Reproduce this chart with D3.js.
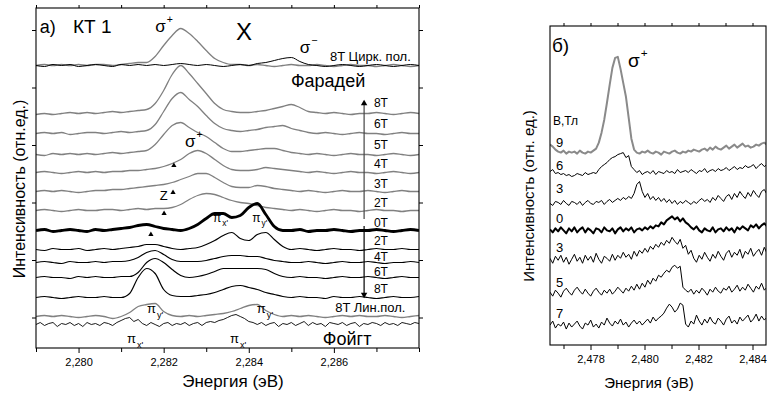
<!DOCTYPE html>
<html>
<head>
<meta charset="utf-8">
<script src="https://cdnjs.cloudflare.com/ajax/libs/d3/7.8.5/d3.min.js"></script>
<style>
  body { margin: 0; background: #fff; }
  svg { display: block; font-family: "Liberation Sans", Arial, sans-serif; }
  text { fill: #000; }
</style>
</head>
<body>
<svg id="chart" width="767" height="393"></svg>
<script>
// ---------- panel a (КТ 1) ----------
const energyA = [2.2790,2.2792,2.2794,2.2796,2.2798,2.2800,2.2802,2.2804,2.2806,2.2808,
  2.2810,2.2812,2.2814,2.2816,2.2818,2.2820,2.2822,2.2824,2.2826,2.2828,
  2.2830,2.2832,2.2834,2.2836,2.2838,2.2840,2.2842,2.2844,2.2846,2.2848,
  2.2850,2.2852,2.2854,2.2856,2.2858,2.2860,2.2862,2.2864,2.2866,2.2868,
  2.2870,2.2872,2.2874,2.2876,2.2878,2.2880];

const energyVoigt = [2.2790,2.2791,2.2792,2.2793,2.2794,2.2795,2.2796,2.2797,2.2798,2.2799,
  2.2800,2.2801,2.2802,2.2803,2.2804,2.2805,2.2806,2.2807,2.2808,2.2809,
  2.2810,2.2811,2.2812,2.2813,2.2814,2.2815,2.2816,2.2817,2.2818,2.2819,
  2.2820,2.2821,2.2822,2.2823,2.2824,2.2825,2.2826,2.2827,2.2828,2.2829,
  2.2830,2.2831,2.2832,2.2833,2.2834,2.2835,2.2836,2.2837,2.2838,2.2839,
  2.2840,2.2841,2.2842,2.2843,2.2844,2.2845,2.2846,2.2847,2.2848,2.2849,
  2.2850,2.2851,2.2852,2.2853,2.2854,2.2855,2.2856,2.2857,2.2858,2.2859,
  2.2860,2.2861,2.2862,2.2863,2.2864,2.2865,2.2866,2.2867,2.2868,2.2869,
  2.2870,2.2871,2.2872,2.2873,2.2874,2.2875,2.2876,2.2877,2.2878,2.2879,
  2.2880];

// 8T circular polarisation
const circPlus = [0.0,0.1,0.0,0.1,0.0,0.1,0.0,0.1,0.1,0.0,0.1,0.2,0.3,
  0.3,0.9,2.0,3.0,3.7,3.2,2.4,1.5,0.7,0.3,0.1,
  0.1,0.0,0.1,0.0,-0.1,0.0,0.1,0.0,0.0,0.1,0.0,-0.1,0.0,0.1,0.0,0.0,-0.1,0.0,0.1,0.0,-0.1,0.0];
const circMinus = [0.0,-0.1,0.1,0.0,0.1,-0.1,0.0,0.1,0.0,-0.1,0.1,0.0,0.1,0.0,0.1,0.0,
  0.1,0.2,0.1,0.0,0.1,0.0,-0.1,0.0,0.1,0.0,
  0.2,0.3,0.5,0.7,0.8,0.4,0.1,0.0,
  -0.1,0.0,0.1,0.0,-0.1,0.0,0.1,0.0,-0.1,0.0,0.1,0.0];

// Faraday geometry
const far8 = [-0.1,0.0,-0.1,0.0,0.1,0.0,0.1,0.0,0.1,0.2,0.1,0.2,0.3,
  0.4,1.0,2.3,3.9,4.8,4.0,3.0,2.0,1.0,0.4,0.2,0.1,0.1,
  0.2,0.3,0.5,0.7,0.9,0.6,0.2,0.1,
  0.0,0.1,0.0,-0.1,0.0,0.0,0.1,0.0,-0.1,0.0,0.1,0.0];
const far6 = [0.0,0.1,0.0,0.1,-0.1,0.0,0.1,0.1,0.0,0.1,0.2,0.1,0.2,
  0.3,0.9,2.2,3.5,4.1,3.4,2.7,1.8,1.0,0.5,0.3,0.2,0.3,
  0.4,0.6,0.7,0.8,0.5,0.3,0.1,0.0,
  0.1,0.0,-0.1,0.0,0.1,0.0,0.0,-0.1,0.0,0.1,0.0,0.0];
const far5 = [0.0,-0.1,0.1,0.0,0.1,0.0,0.1,0.0,0.1,0.2,0.1,0.2,0.3,
  0.4,1.0,2.0,2.9,3.2,2.7,2.2,1.8,1.2,0.6,0.3,0.3,0.4,
  0.5,0.6,0.6,0.4,0.2,0.1,0.0,0.1,
  0.0,-0.1,0.0,0.1,0.0,0.0,-0.1,0.0,0.1,0.0,-0.1,0.0];
const far4 = [0.0,0.1,0.0,-0.1,0.0,0.1,0.0,0.1,0.0,0.1,0.1,0.2,
  0.2,0.3,0.4,0.6,0.9,1.3,1.9,2.2,1.9,1.3,0.7,0.3,0.2,0.2,
  0.3,0.5,0.4,0.3,0.2,0.1,
  0.0,0.1,0.0,-0.1,0.0,0.1,0.0,0.0,-0.1,0.0,0.1,0.0,-0.1,0.0];
const far3 = [0.0,0.1,0.0,0.1,0.0,-0.1,0.0,0.1,0.1,0.2,0.2,
  0.3,0.4,0.5,0.6,0.7,0.9,1.2,1.5,1.8,1.8,1.4,0.9,0.5,0.4,0.4,
  0.6,0.5,0.3,0.2,0.1,
  0.0,0.1,0.0,-0.1,0.0,0.1,0.0,0.0,0.1,0.0,-0.1,0.0,0.1,0.0,0.0];
const far2 = [0.0,0.1,0.0,-0.1,0.0,0.1,0.0,0.0,0.1,0.1,0.0,0.1,0.2,0.1,0.2,
  0.2,0.3,0.6,1.1,1.5,1.7,1.6,1.3,1.0,0.8,0.7,0.5,0.3,0.2,0.1,
  0.0,0.1,0.0,-0.1,0.0,0.1,0.0,0.0,-0.1,0.0,0.1,0.0,0.0,-0.1,0.0,0.0];

// zero field
const zeroField = [0.0,0.1,-0.1,0.0,0.1,0.0,-0.1,0.1,0.0,0.1,0.2,
  0.3,0.5,0.6,0.4,0.2,0.1,0.0,0.2,0.6,1.2,1.7,1.7,1.3,1.5,2.3,2.7,1.6,0.4,0.0,
  0.0,0.1,-0.1,0.0,0.0,0.1,0.0,-0.1,0.0,0.0,0.1,0.0,-0.1,0.0,0.1,0.0];

// Voigt geometry
const voi2 = [0.0,-0.1,0.1,0.0,0.0,0.1,-0.1,0.0,0.1,0.0,0.1,0.2,
  0.3,0.5,0.5,0.3,0.1,0.0,0.1,0.2,0.5,0.9,1.4,1.7,1.1,0.9,1.5,1.7,1.0,0.3,
  0.0,0.1,0.0,-0.1,0.0,0.1,0.0,0.0,-0.1,0.0,0.1,0.0,0.0,0.1,0.0,0.0];
const voi4 = [0.0,0.1,0.0,-0.1,0.1,0.0,0.0,0.1,0.0,0.1,0.1,
  0.2,0.5,1.0,1.2,0.8,0.3,0.1,0.1,0.1,0.2,0.4,0.6,0.7,0.7,0.6,0.6,0.4,0.2,0.1,
  0.0,0.0,0.1,0.0,-0.1,0.0,0.1,0.0,0.0,0.1,0.0,-0.1,0.0,0.0,0.1,0.0];
const voi6 = [0.0,0.1,0.0,0.0,-0.1,0.1,0.0,0.1,0.0,0.0,0.1,
  0.1,0.5,1.5,1.9,1.5,0.8,0.2,0.0,0.1,0.3,0.6,0.9,0.9,0.9,0.9,0.9,0.8,0.4,0.1,
  0.0,0.1,0.0,0.0,-0.1,0.0,0.1,0.0,0.0,0.1,0.0,-0.1,0.0,0.1,0.0,0.0];
const voi8 = [0.0,0.1,0.0,-0.1,0.0,0.1,0.0,0.0,0.1,0.0,0.0,
  0.4,2.0,2.9,2.4,0.8,0.2,0.1,0.1,0.2,0.3,0.5,0.8,1.1,1.2,1.0,0.8,0.5,0.3,0.1,
  0.0,0.1,0.0,0.0,-0.1,0.1,0.0,0.0,0.1,0.0,-0.1,0.0,0.1,0.0,0.0,0.1];
const linPol8 = [0.0,0.1,0.0,0.1,0.0,-0.1,0.0,0.1,0.0,
  -0.2,0.0,0.4,1.0,1.2,1.3,0.5,0.1,0.0,0.1,0.0,0.1,0.2,0.3,0.5,0.8,1.1,1.2,0.6,0.2,0.0,
  0.1,0.0,0.1,0.0,-0.1,0.0,0.1,0.0,0.1,0.0,0.0,0.1,0.0,-0.1,0.0,0.1];
const voigtNoisy = [0.0,0.2,-0.1,0.1,0.2,-0.2,0.1,0.0,0.2,-0.1,0.1,-0.2,0.2,0.0,0.1,-0.1,0.2,0.1,-0.1,0.2,
  0.4,0.6,0.7,0.3,0.5,0.1,
  -0.1,0.2,0.0,-0.2,0.1,0.2,-0.1,0.1,0.0,0.2,-0.1,0.1,0.2,-0.1,0.2,
  0.3,0.2,0.4,0.5,0.7,0.9,1.0,0.8,0.6,0.3,0.2,0.0,
  0.2,-0.1,0.1,0.2,-0.2,0.1,0.0,0.2,-0.1,0.1,0.3,-0.1,0.2,0.0,0.1,-0.2,0.2,0.1,0.0,0.2,
  -0.1,0.1,0.2,-0.2,0.1,0.0,0.2,0.1,-0.1,0.2,0.0,0.1,-0.1,0.2,0.1,0.0,0.2,0.1];

const seriesA = [circPlus, circMinus, far8, far6, far5, far4, far3, far2, zeroField,
  voi2, voi4, voi6, voi8, linPol8, voigtNoisy];
const offsetsA = [25.2, 25.2, 20.4, 18.4, 16.3, 14.5, 12.6, 10.7, 8.7, 6.8, 5.5, 4.0, 2.0, 0.1, -0.7];
const fieldLabelsA = ["8T", "6T", "5T", "4T", "3T", "2T", "0T", "2T", "4T", "6T", "8T"];
const fieldLabelLevelsA = [21.05, 18.95, 16.85, 14.95, 12.95, 11.05, 9.05, 7.25, 5.65, 4.15, 2.45];
const xMajorA = [2.280, 2.282, 2.284, 2.286];
const xMinorA = [2.279, 2.281, 2.283, 2.285, 2.287, 2.288];
const yTicksA = [0, 5.75, 11.5, 17.25, 23, 28.75];

// ---------- panel b ----------
const energyB = [2.4765,2.4766,2.4767,2.4768,2.4769,
  2.4770,2.4771,2.4772,2.4773,2.4774,2.4775,2.4776,2.4777,2.4778,2.4779,
  2.4780,2.4781,2.4782,2.4783,2.4784,2.4785,2.4786,2.4787,2.4788,2.4789,
  2.4790,2.4791,2.4792,2.4793,2.4794,2.4795,2.4796,2.4797,2.4798,2.4799,
  2.4800,2.4801,2.4802,2.4803,2.4804,2.4805,2.4806,2.4807,2.4808,2.4809,
  2.4810,2.4811,2.4812,2.4813,2.4814,2.4815,2.4816,2.4817,2.4818,2.4819,
  2.4820,2.4821,2.4822,2.4823,2.4824,2.4825,2.4826,2.4827,2.4828,2.4829,
  2.4830,2.4831,2.4832,2.4833,2.4834,2.4835,2.4836,2.4837,2.4838,2.4839,
  2.4840,2.4841,2.4842,2.4843,2.4844,2.4845];

const fieldB9 = [0.8,0.6,0.3,0.1,
  0.0,0.2,-0.1,0.1,0.0,0.1,-0.1,0.2,0.0,-0.1,0.1,0.0,0.2,
  0.4,1.0,2.0,3.3,5.0,6.8,8.5,9.5,9.6,8.4,7.0,5.6,3.5,1.4,0.3,
  0.0,-0.1,0.1,0.0,0.2,0.0,-0.1,0.1,0.0,-0.2,0.1,0.0,-0.1,0.1,0.2,0.0,-0.1,0.1,0.0,0.2,
  0.1,0.3,0.2,0.1,0.3,0.4,0.2,0.5,0.3,0.6,0.4,0.3,0.5,0.7,0.4,0.6,0.8,0.5,0.7,0.9,
  0.6,0.7,0.5,0.6,0.8,0.7,0.9,1.0,0.8];
const fieldB6 = [0.2,0.4,0.0,0.1,-0.1,0.0,-0.2,-0.1,-0.3,-0.2,0.0,-0.1,-0.2,0.1,-0.1,0.0,
  0.1,0.0,0.4,0.7,0.9,1.1,1.4,1.6,1.7,1.9,2.0,2.1,1.6,1.8,0.7,0.4,
  0.1,0.3,-0.1,0.1,0.2,0.0,0.3,-0.1,0.2,0.1,0.0,0.3,0.1,0.2,0.0,0.4,0.1,0.2,0.3,0.1,
  0.4,0.2,0.0,0.3,0.2,0.5,0.1,0.3,0.4,0.2,0.5,0.3,0.4,0.6,0.3,0.5,0.7,0.4,0.6,0.5,
  0.8,0.6,0.7,0.9,0.5,0.8,1.0,0.7,0.9];
const fieldB3 = [0.0,-0.2,0.2,0.1,-0.1,0.3,0.0,-0.2,0.2,0.1,-0.1,0.2,-0.2,0.1,0.3,0.0,
  -0.1,0.2,0.1,0.3,-0.1,0.2,0.4,0.1,0.3,0.5,
  0.3,0.6,0.4,0.7,0.5,1.0,1.9,2.2,1.2,0.6,1.0,0.4,0.7,0.3,0.6,
  0.2,0.5,0.1,0.4,0.0,0.3,-0.1,0.2,0.0,0.3,0.1,-0.1,0.2,0.0,0.3,0.5,0.2,0.4,0.1,0.6,
  0.3,0.8,0.5,0.2,0.7,0.9,0.4,1.0,0.6,1.2,0.8,0.5,1.1,0.7,1.3,0.9,0.6,1.2,1.4,0.9];
const fieldB0 = [0.1,-0.2,0.2,-0.1,0.3,0.0,-0.3,0.2,-0.1,0.3,-0.2,0.1,0.3,-0.2,0.2,0.0,-0.3,0.2,0.1,-0.2,
  0.3,0.0,-0.1,0.2,-0.3,0.1,0.3,-0.1,0.2,0.0,0.3,-0.2,0.1,0.2,0.0,0.3,0.1,0.4,0.2,0.5,
  0.4,0.8,0.6,1.0,1.2,1.4,1.1,1.3,0.9,1.2,0.8,0.6,0.3,0.1,0.4,0.0,
  -0.2,0.2,0.0,-0.1,0.3,-0.2,0.1,0.2,-0.1,0.3,0.0,0.2,-0.2,0.3,0.1,0.4,0.2,0.0,0.5,0.3,
  0.6,0.2,0.5,0.7,0.4];
const fieldB3v = [0.2,-0.3,0.4,0.0,0.5,-0.2,0.3,-0.4,0.1,0.6,-0.1,0.3,-0.3,0.5,0.0,0.4,-0.2,0.7,0.1,-0.3,
  0.4,0.2,-0.1,0.6,0.0,0.5,0.2,0.8,0.3,0.6,0.1,0.9,0.4,1.0,0.7,
  1.2,0.8,1.4,1.1,1.6,1.3,1.8,1.5,2.0,1.7,2.3,1.9,1.6,2.1,1.2,1.5,0.6,1.0,0.2,-0.2,0.5,
  0.1,0.8,0.3,-0.1,0.6,0.2,0.9,0.4,0.0,0.7,1.0,0.3,0.8,0.5,1.1,0.2,0.9,0.6,1.2,0.4,
  0.8,1.1,0.5,1.3,0.7];
const fieldB5 = [0.1,-0.3,0.3,0.0,-0.4,0.2,0.5,0.1,-0.2,0.3,0.6,0.2,-0.1,0.4,0.0,-0.3,0.2,0.5,0.1,-0.2,
  0.3,0.0,0.4,-0.1,0.2,0.6,0.3,0.0,0.5,0.2,0.7,0.3,0.9,0.4,1.0,0.6,
  1.3,0.9,1.5,1.2,1.8,1.6,2.0,2.3,2.1,2.6,2.8,2.5,2.7,0.6,0.3,
  0.1,0.4,-0.1,0.3,0.0,0.5,0.2,-0.2,0.4,0.1,0.6,0.2,0.0,0.5,0.3,0.7,0.1,0.4,0.8,0.2,
  0.6,0.3,0.9,0.5,0.1,0.7,0.4,1.0,0.3,0.6];
const fieldB7 = [0.2,0.6,-0.1,0.3,0.1,0.5,-0.2,0.4,0.0,0.3,0.6,0.1,-0.2,0.4,0.2,0.7,0.0,0.3,-0.1,0.5,
  0.2,0.9,0.4,0.1,0.6,0.3,0.8,0.2,0.5,0.0,0.4,0.7,0.3,0.6,0.2,0.5,
  0.8,0.4,1.0,0.6,0.9,1.1,1.4,1.9,2.3,2.0,1.5,1.8,2.4,2.2,0.3,0.0,0.6,
  0.3,1.2,0.6,0.2,0.8,0.4,1.0,0.5,0.3,0.9,0.6,0.2,0.8,1.1,0.4,0.7,0.3,1.0,0.6,0.9,
  1.2,0.5,0.8,1.3,0.6,1.1,0.7,1.0];

const seriesB = [fieldB9, fieldB6, fieldB3, fieldB0, fieldB3v, fieldB5, fieldB7];
const offsetsB = [19.3, 17.2, 14.2, 11.5, 8.5, 5.2, 1.8];
const fieldLabelsB = ["9", "6", "3", "0", "3", "5", "7"];
const fieldLabelLevelsB = [19.86, 17.55, 15.25, 12.24, 9.33, 5.82, 2.71];
const xMajorB = [2.478, 2.480, 2.482, 2.484];
const xMinorB = [2.477, 2.479, 2.481, 2.483];

// ---------- drawing ----------
const svg = d3.select("#chart");
const fmt = d3.formatLocale({decimal: ",", thousands: " ", grouping: [3], currency: ["", ""]}).format(".3f");

function frameAndAxes(x, y, major, minor, yTicks, xLabel, yLabel, xLabelAt, yLabelAt) {
    const [x0, x1] = x.range(), [y0, y1] = y.range();
    const g = svg.append("g");
    g.append("g").attr("transform", `translate(0,${y0})`)
        .call(d3.axisBottom(x).tickValues(major).tickSize(5).tickPadding(5).tickFormat(fmt));
    g.append("g").attr("transform", `translate(0,${y0})`)
        .call(d3.axisBottom(x).tickValues(minor).tickSize(4).tickFormat(""));
    g.append("g").attr("transform", `translate(0,${y1})`)
        .call(d3.axisTop(x).tickValues(major.concat(minor)).tickSize(3).tickFormat(""));
    if (yTicks) {
        g.append("g").attr("transform", `translate(${x0},0)`)
            .call(d3.axisLeft(y).tickValues(yTicks).tickSize(4).tickFormat(""));
        g.append("g").attr("transform", `translate(${x1},0)`)
            .call(d3.axisRight(y).tickValues(yTicks).tickSize(4).tickFormat(""));
    }
    g.selectAll(".domain").remove();
    g.selectAll(".tick line").attr("stroke", "#000");
    g.selectAll(".tick text").attr("font-size", 11).attr("fill", "#000")
        .attr("font-family", '"Liberation Sans", Arial, sans-serif');
    g.append("rect").attr("x", x0).attr("y", y1).attr("width", x1 - x0).attr("height", y0 - y1)
        .attr("fill", "none").attr("stroke", "#000").attr("stroke-width", 1.1);
    g.append("text").attr("x", xLabelAt[0]).attr("y", xLabelAt[1]).attr("text-anchor", "middle")
        .attr("font-size", xLabelAt[2]).text(xLabel);
    g.append("text").attr("transform", `translate(${yLabelAt[0]},${yLabelAt[1]}) rotate(-90)`)
        .attr("text-anchor", "middle").attr("font-size", yLabelAt[2]).text(yLabel);
}

function spectrum(g, x, y, energies, values, offset, color, width, curve) {
    const n = Math.min(energies.length, values.length);
    const pts = values.slice(0, n).map((v, i) => [energies[i], offset + v]);
    g.append("path").datum(pts)
        .attr("fill", "none").attr("stroke", color).attr("stroke-width", width)
        .attr("stroke-linejoin", "round")
        .attr("d", d3.line().x(d => x(d[0])).y(d => y(d[1])).curve(curve));
}

function label(x, y, e, v, txt, size, anchor) {
    return svg.append("text").attr("x", x(e)).attr("y", y(v))
        .attr("font-size", size).attr("text-anchor", anchor || "start").text(txt);
}

function greek(x, y, e, v, letter, extra, size, up) {
    const t = svg.append("text").attr("x", x(e)).attr("y", y(v)).attr("font-size", size);
    t.append("tspan").text(letter);
    t.append("tspan").attr("font-size", size * (up ? 0.62 : 0.7)).attr("dx", 1)
        .attr("dy", up ? -size * 0.55 : size * 0.35).text(extra);
}

// panel a
const xA = d3.scaleLinear().domain([2.279, 2.288]).range([36, 419]);
const yA = d3.scaleLinear().domain([-3.05, 30.95]).range([348, 8]);

svg.append("clipPath").attr("id", "clipA").append("rect")
    .attr("x", 36).attr("y", 8).attr("width", 383).attr("height", 340);
const gA = svg.append("g").attr("clip-path", "url(#clipA)");

const styleA = [
    ["#808080", 1.3, d3.curveMonotoneX], ["#000", 1, d3.curveMonotoneX],
    ["#808080", 1.3, d3.curveMonotoneX], ["#808080", 1.3, d3.curveMonotoneX],
    ["#808080", 1.3, d3.curveMonotoneX], ["#808080", 1.3, d3.curveMonotoneX],
    ["#808080", 1.3, d3.curveMonotoneX], ["#808080", 1.3, d3.curveMonotoneX],
    ["#000", 2.8, d3.curveMonotoneX],
    ["#000", 1.2, d3.curveMonotoneX], ["#000", 1.2, d3.curveMonotoneX],
    ["#000", 1.2, d3.curveMonotoneX], ["#000", 1.2, d3.curveMonotoneX],
    ["#808080", 1.3, d3.curveMonotoneX], ["#000", 0.9, d3.curveLinear]
];
seriesA.forEach((s, k) => {
    const grid = s === voigtNoisy ? energyVoigt : energyA;
    spectrum(gA, xA, yA, grid, s, offsetsA[k], styleA[k][0], styleA[k][1], styleA[k][2]);
});

frameAndAxes(xA, yA, xMajorA, xMinorA, yTicksA, "Энергия (эВ)", "Интенсивность (отн.ед.)",
    [233, 387, 17], [25, 189, 16]);

// field direction arrows
const arrowE = 2.28671;
svg.append("line").attr("x1", xA(arrowE)).attr("x2", xA(arrowE)).attr("y1", yA(9.85)).attr("y2", yA(21.4))
    .attr("stroke", "#444").attr("stroke-width", 1.2);
svg.append("path").attr("d", d3.symbol(d3.symbolTriangle, 18)())
    .attr("transform", `translate(${xA(arrowE)},${yA(21.4)})`).attr("fill", "#000");
svg.append("line").attr("x1", xA(arrowE)).attr("x2", xA(arrowE)).attr("y1", yA(9.15)).attr("y2", yA(2.3))
    .attr("stroke", "#000").attr("stroke-width", 1.2);
svg.append("path").attr("d", d3.symbol(d3.symbolTriangle, 18)())
    .attr("transform", `translate(${xA(arrowE)},${yA(2.3)}) rotate(180)`).attr("fill", "#000");

fieldLabelsA.forEach((t, k) => label(xA, yA, 2.28694, fieldLabelLevelsA[k], t, 12));

// z-line markers
const markersA = [[2.28224, 15.2], [2.28222, 12.5], [2.28201, 10.4], [2.28170, 8.3]];
markersA.forEach(m => {
    svg.append("path").attr("d", d3.symbol(d3.symbolTriangle, 12)())
        .attr("transform", `translate(${xA(m[0])},${yA(m[1])})`).attr("fill", "#000");
});

label(xA, yA, 2.27909, 28.45, "а)", 18);
label(xA, yA, 2.27987, 28.45, "КТ 1", 19);
label(xA, yA, 2.28370, 27.75, "X", 24);
label(xA, yA, 2.28591, 25.65, "8T Цирк. пол.", 13);
label(xA, yA, 2.28499, 23.05, "Фарадей", 18);
label(xA, yA, 2.28603, 0.55, "8T Лин.пол.", 13);
label(xA, yA, 2.28574, -2.75, "Фойгт", 18);
label(xA, yA, 2.28191, 11.75, "Z", 13);

greek(xA, yA, 2.28180, 28.55, "σ", "+", 17, true);
greek(xA, yA, 2.28520, 26.45, "σ", "−", 17, true);
greek(xA, yA, 2.28250, 17.05, "σ", "+", 17, true);
greek(xA, yA, 2.28316, 9.55, "π", "x'", 12, false);
greek(xA, yA, 2.28408, 9.55, "π", "y'", 12, false);
greek(xA, yA, 2.28161, 0.45, "π", "y'", 13, false);
greek(xA, yA, 2.28419, 0.45, "π", "y'", 13, false);
greek(xA, yA, 2.28114, -2.55, "π", "x'", 13, false);
greek(xA, yA, 2.28356, -2.55, "π", "x'", 13, false);

// panel b
const xB = d3.scaleLinear().domain([2.4765, 2.4845]).range([550, 767]);
const yB = d3.scaleLinear().domain([0, 32]).range([345, 26]);

svg.append("clipPath").attr("id", "clipB").append("rect")
    .attr("x", 550).attr("y", 26).attr("width", 216).attr("height", 319);
const gB = svg.append("g").attr("clip-path", "url(#clipB)");

const styleB = [["#8a8a8a", 2], ["#000", 1], ["#000", 1], ["#000", 2], ["#000", 1], ["#000", 1], ["#000", 1]];
seriesB.forEach((s, k) => spectrum(gB, xB, yB, energyB, s, offsetsB[k], styleB[k][0], styleB[k][1], d3.curveLinear));

xB.range([550, 766]);
frameAndAxes(xB, yB, xMajorB, xMinorB, null, "Энергия (эВ)", "Интенсивность (отн. ед.)",
    [649, 388, 15], [534, 196, 15]);
xB.range([550, 767]);

label(xB, yB, 2.47657, 29.39, "б)", 19);
label(xB, yB, 2.47661, 22.07, "B,Тл", 12);
fieldLabelsB.forEach((t, k) => label(xB, yB, 2.47672, fieldLabelLevelsB[k], t, 13));
greek(xB, yB, 2.47938, 27.89, "σ", "+", 19, true);
</script>
</body>
</html>
